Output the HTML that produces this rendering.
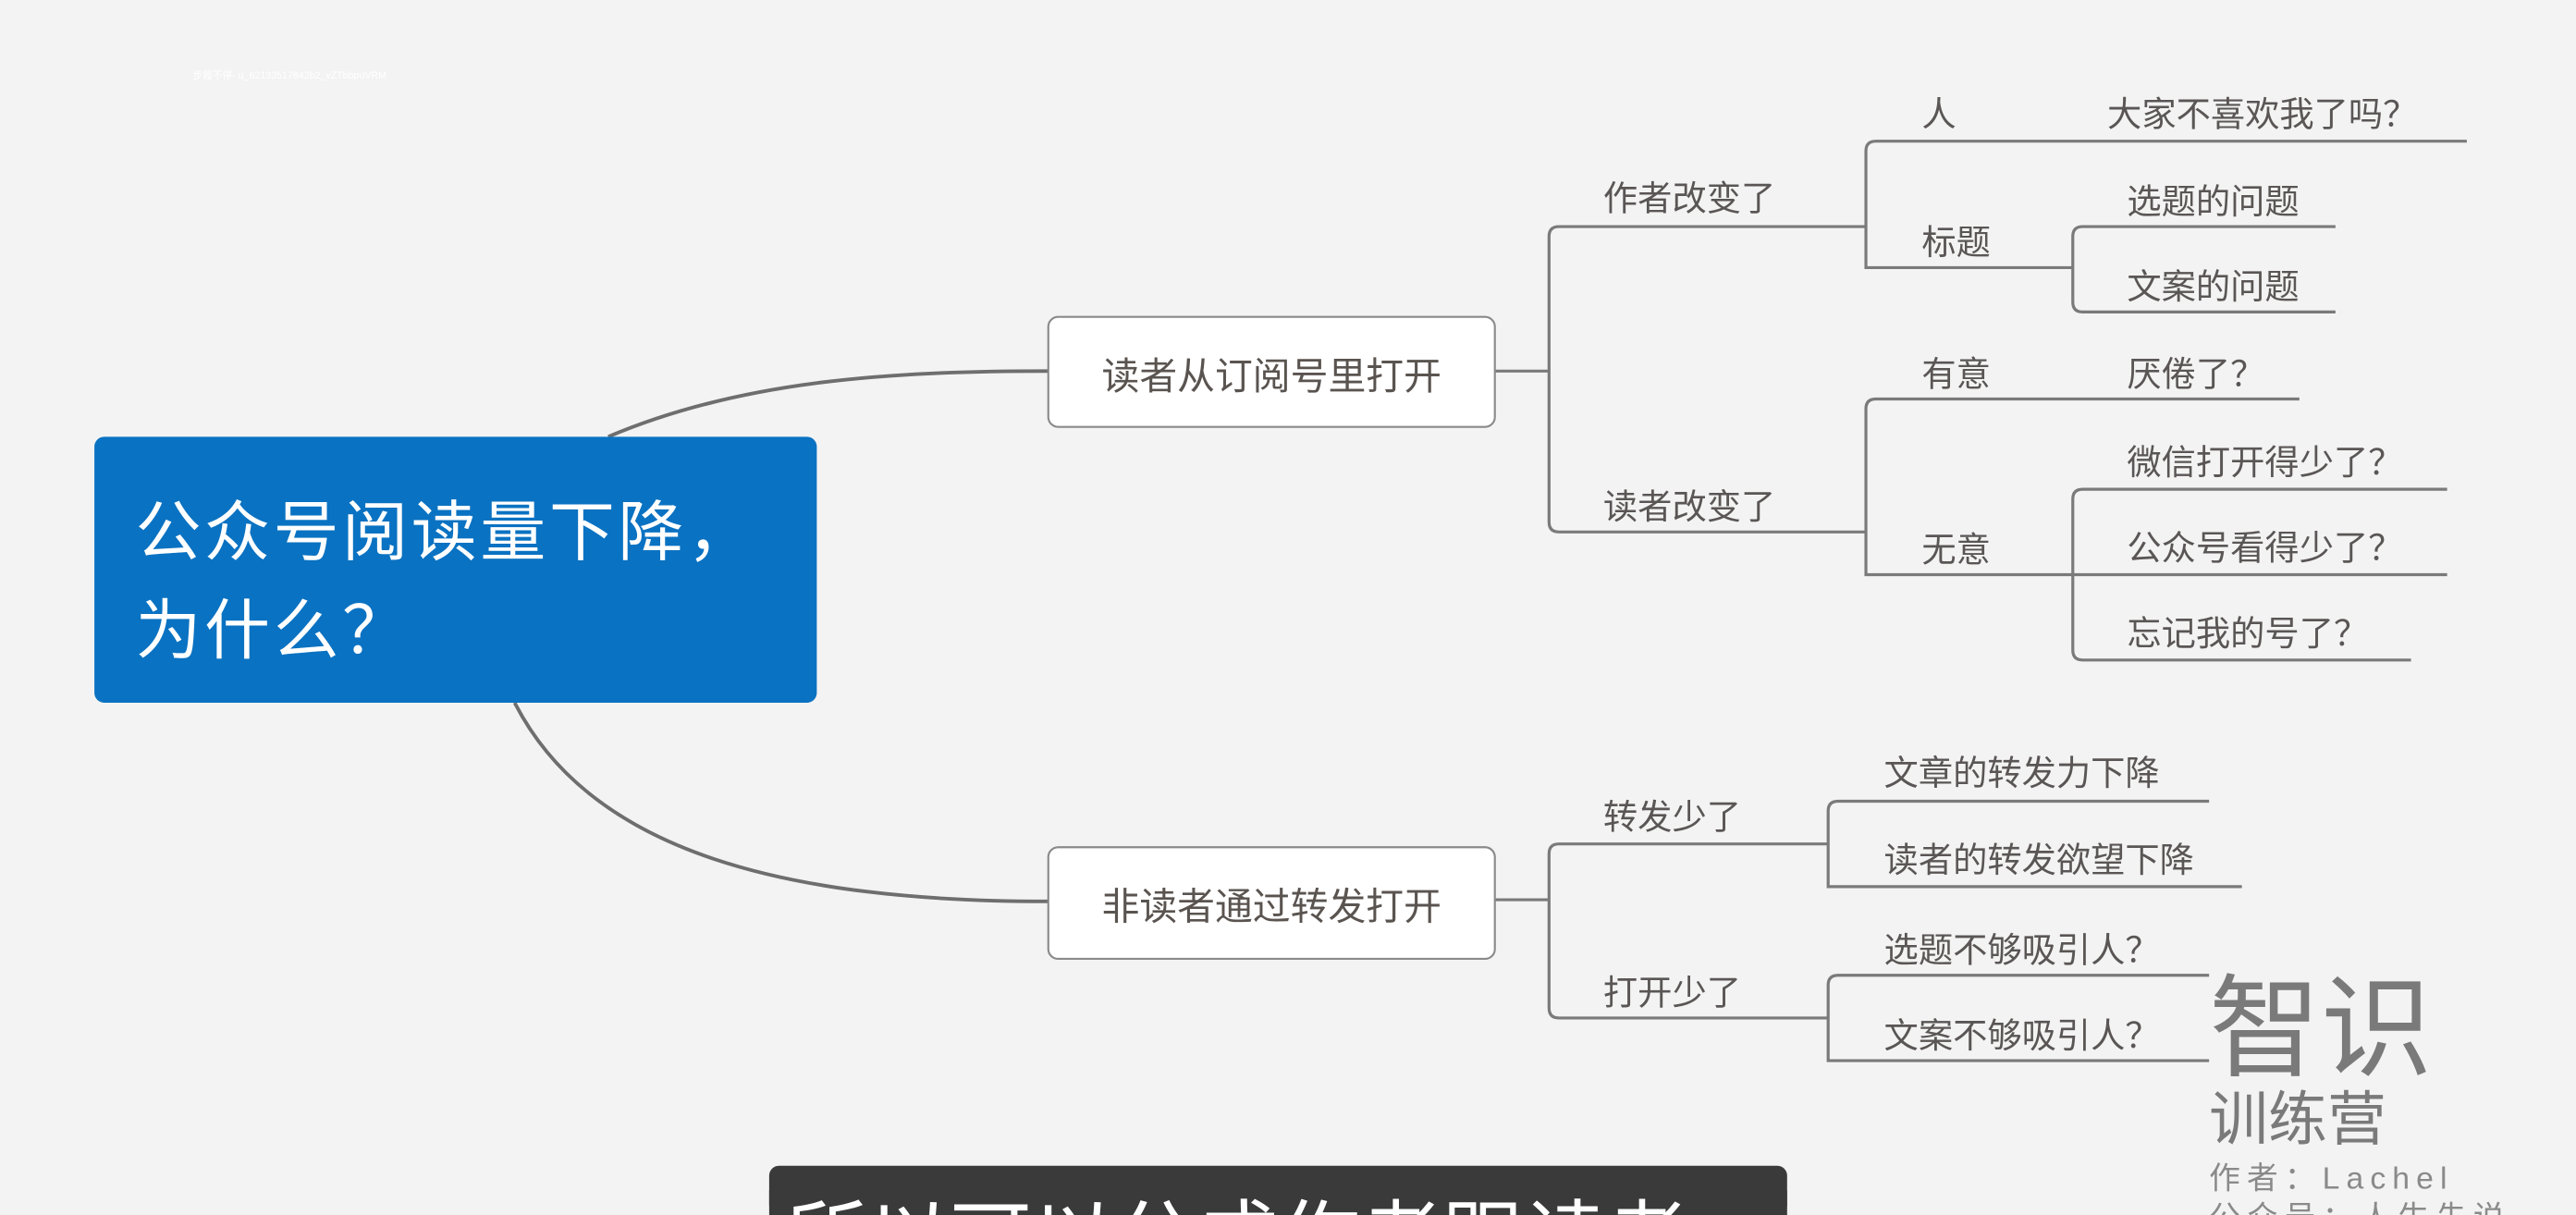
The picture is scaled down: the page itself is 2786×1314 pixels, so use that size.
<!DOCTYPE html>
<html><head><meta charset="utf-8"><style>
html,body{margin:0;padding:0;background:#f3f3f3;overflow:hidden;width:2786px;height:1314px}
svg{display:block}
text{font-family:"Liberation Sans","Noto Sans CJK SC",sans-serif}
</style></head><body>
<svg width="2786" height="1314" viewBox="0 0 1568 740" xmlns="http://www.w3.org/2000/svg" overflow="hidden">
<defs><clipPath id="c"><rect x="0" y="0" width="1568" height="740"/></clipPath></defs>
<rect width="1568" height="740" fill="#f3f3f3"/>
<text x="117" y="48" font-size="6" fill="#ffffff">步履不停- u_62133517642b2_vZTbbpuVRM</text>
<g fill="none" stroke="#6e6e6e" stroke-width="2.2">
<path d="M370 266 C 450 232, 540 226, 638 226"/>
<path d="M313 428 C 360 520, 480 549, 638 549"/>
</g>
<g fill="none" stroke="#7a7a7a" stroke-width="1.8">
<path d="M910 226 H943"/>
<path d="M1136 138 H949 Q943 138 943 144 V318 Q943 324 949 324 H1136"/>
<path d="M1502 86 H1142 Q1136 86 1136 92 V163 H1262"/>
<path d="M1422 138 H1268 Q1262 138 1262 144 V184 Q1262 190 1268 190 H1422"/>
<path d="M1400 243 H1142 Q1136 243 1136 249 V350 H1262"/>
<path d="M1490 298 H1268 Q1262 298 1262 304 V396 Q1262 402 1268 402 H1468"/>
<path d="M1262 350 H1490"/>
<path d="M910 548 H943"/>
<path d="M1113 514 H949 Q943 514 943 520 V614 Q943 620 949 620 H1113"/>
<path d="M1345 488 H1119 Q1113 488 1113 494 V540 H1365"/>
<path d="M1345 594 H1119 Q1113 594 1113 600 V646 H1345"/>
</g>
<rect x="57" y="266" width="440" height="162" rx="6" fill="#0a72c2"/>
<text x="82" y="338" font-size="40" fill="#fff" letter-spacing="2">公众号阅读量下降，</text>
<text x="82" y="398" font-size="40" fill="#fff" letter-spacing="2">为什么？</text>
<rect x="638" y="193" width="272" height="67" rx="6" fill="#fff" stroke="#8a8a8a" stroke-width="1.2"/>
<text x="774" y="237" font-size="23" fill="#5a5450" text-anchor="middle">读者从订阅号里打开</text>
<rect x="638" y="516" width="272" height="68" rx="6" fill="#fff" stroke="#8a8a8a" stroke-width="1.2"/>
<text x="774" y="560" font-size="23" fill="#5a5450" text-anchor="middle">非读者通过转发打开</text>
<g font-size="21" fill="#5a5655">
<text x="976" y="128">作者改变了</text>
<text x="976" y="316">读者改变了</text>
<text x="1170" y="77">人</text>
<text x="1283" y="77">大家不喜欢我了吗？</text>
<text x="1170" y="155">标题</text>
<text x="1295" y="130">选题的问题</text>
<text x="1295" y="182">文案的问题</text>
<text x="1170" y="235">有意</text>
<text x="1295" y="235">厌倦了？</text>
<text x="1170" y="342">无意</text>
<text x="1295" y="289">微信打开得少了？</text>
<text x="1295" y="341">公众号看得少了？</text>
<text x="1295" y="393">忘记我的号了？</text>
<text x="976" y="505">转发少了</text>
<text x="976" y="612">打开少了</text>
<text x="1147" y="478">文章的转发力下降</text>
<text x="1147" y="531">读者的转发欲望下降</text>
<text x="1147" y="586">选题不够吸引人？</text>
<text x="1147" y="638">文案不够吸引人？</text>
</g>
<text x="1345" y="650" font-size="68" fill="#7a7a7a">智识</text>
<text x="1345" y="694" font-size="36" fill="#7a7a7a">训练营</text>
<text x="1345" y="724" font-size="19" fill="#8a8a8a" letter-spacing="4">作者：Lachel</text>
<g clip-path="url(#c)">
<text x="1345" y="748" font-size="19" fill="#8a8a8a" letter-spacing="4">公众号：人生先说</text>
<rect x="468" y="710" width="620" height="30" rx="6" fill="#3a3a3a"/>
<rect x="468" y="725" width="620" height="15" fill="#3a3a3a"/>
<text x="478" y="772" font-size="50" fill="#fff">所以可以分成作者跟读者</text>
</g>
</svg>
</body></html>
